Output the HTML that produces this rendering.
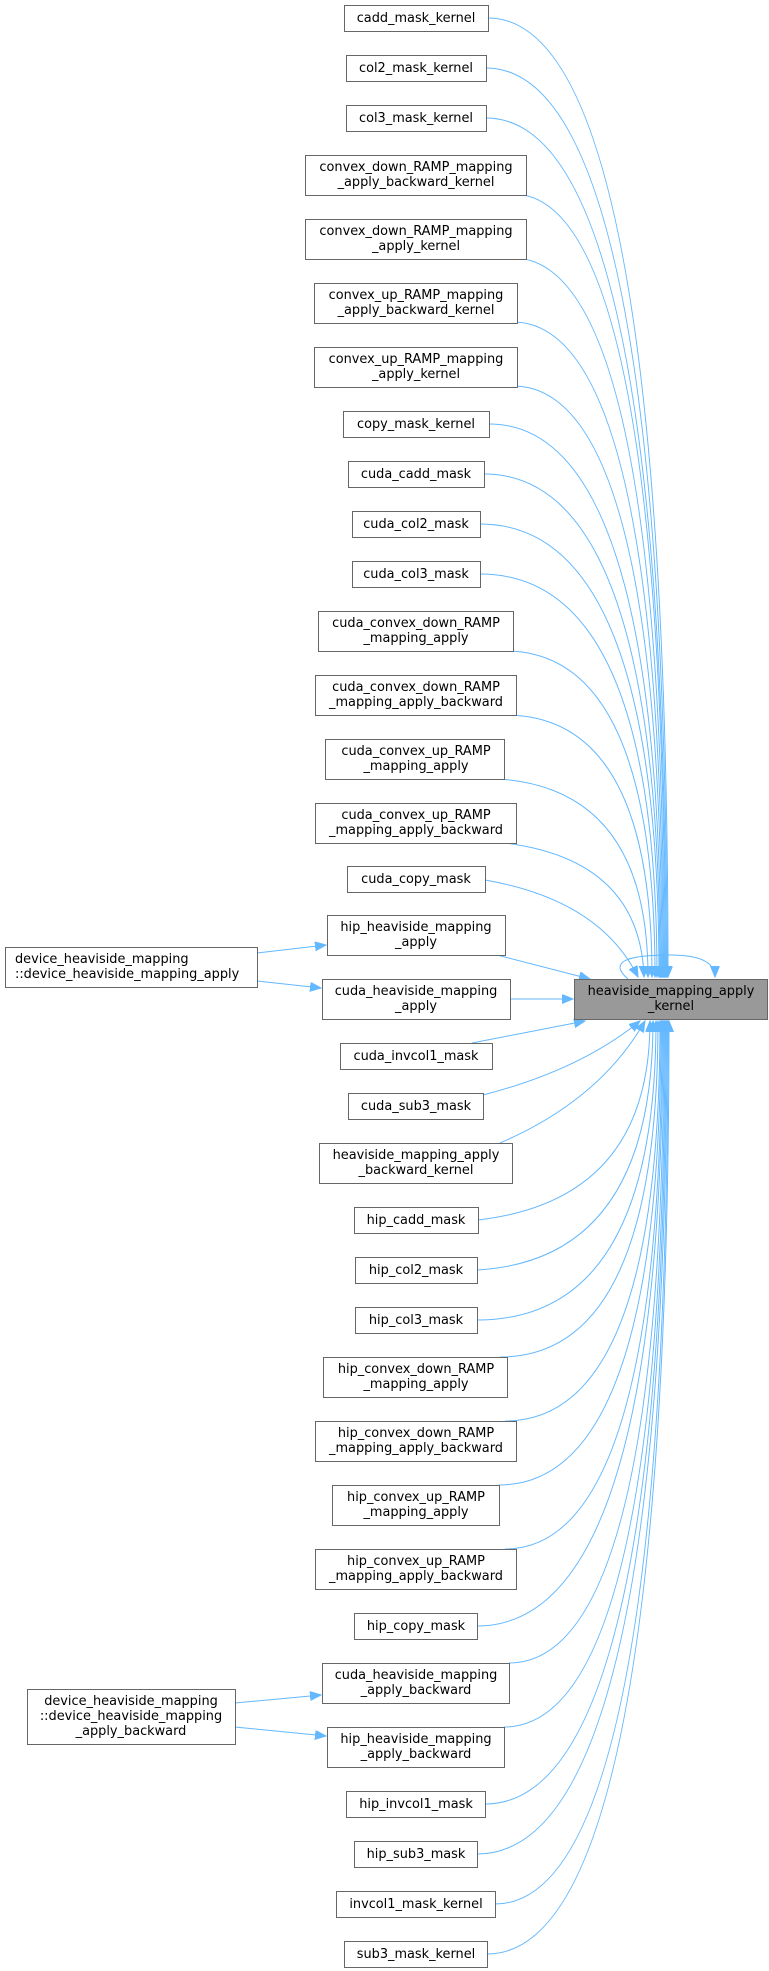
<!DOCTYPE html>
<html><head><meta charset="utf-8"><style>
html,body{margin:0;padding:0;background:#fff;}
svg{display:block;}
text{font-family:"DejaVu Sans","Liberation Sans",sans-serif;font-size:12.9px;fill:#000;text-anchor:middle;}
.b{fill:#fff;stroke:#666;stroke-width:1;}
.e{fill:none;stroke:#63b8ff;stroke-width:1;marker-end:url(#a);}
</style></head><body>
<svg width="769" height="1971" viewBox="0 0 769 1971" xmlns="http://www.w3.org/2000/svg">
<defs><marker id="a" markerUnits="userSpaceOnUse" markerWidth="12" markerHeight="10" refX="11" refY="4.5" orient="auto"><path d="M0,0 L11,4.5 L0,9 z" fill="#63b8ff" stroke="#63b8ff"/></marker></defs>

<path class="e" d="M488,18 Q668,18 668,977"/>
<path class="e" d="M486,68 Q667,68 667,977"/>
<path class="e" d="M486,118 Q666,118 666,977"/>
<path class="e" d="M513,194 Q665,194 665,977"/>
<path class="e" d="M513,258 Q664,258 664,977"/>
<path class="e" d="M513,322 Q663,322 663,977"/>
<path class="e" d="M513,386 Q662,386 662,977"/>
<path class="e" d="M489,424 Q661,424 661,977"/>
<path class="e" d="M484,474 Q660,474 660,977"/>
<path class="e" d="M480,524 Q659,524 659,977"/>
<path class="e" d="M480,574 Q657,574 657,977"/>
<path class="e" d="M505,651 Q655,651 655,977"/>
<path class="e" d="M505,715 Q652,715 652,977"/>
<path class="e" d="M500,779 Q648,790 648,977"/>
<path class="e" d="M505,843 Q640,860 644,977"/>
<path class="e" d="M485,880 Q600,900 638,977"/>
<path class="e" d="M497,955 L590,979"/>
<path class="e" d="M510,999 L573,999"/>
<path class="e" d="M628,979 Q600,955 670,955 Q715,955 715,977"/>
<path class="e" d="M472,1043 L585,1021"/>
<path class="e" d="M483,1095 Q580,1070 640,1021"/>
<path class="e" d="M500,1143 Q600,1100 645,1021"/>
<path class="e" d="M478,1220 Q650,1200 650,1021"/>
<path class="e" d="M477,1270 Q653,1260 653,1021"/>
<path class="e" d="M477,1320 Q656,1320 656,1021"/>
<path class="e" d="M500,1357 Q658,1357 658,1021"/>
<path class="e" d="M505,1421 Q660,1421 660,1021"/>
<path class="e" d="M499,1485 Q661,1485 661,1021"/>
<path class="e" d="M505,1549 Q662,1549 662,1021"/>
<path class="e" d="M477,1626 Q663,1626 663,1021"/>
<path class="e" d="M509,1663 Q664,1663 664,1021"/>
<path class="e" d="M504,1727 Q665,1727 665,1021"/>
<path class="e" d="M485,1804 Q666,1804 666,1021"/>
<path class="e" d="M477,1854 Q667,1854 667,1021"/>
<path class="e" d="M495,1904 Q668,1904 668,1021"/>
<path class="e" d="M487,1954 Q669,1954 669,1021"/>
<path class="e" d="M257,953 L326,945"/>
<path class="e" d="M257,981 L321,988"/>
<path class="e" d="M235,1703 L321,1695"/>
<path class="e" d="M235,1727 L326,1736"/>

<rect class="b" x="344.5" y="5.5" width="144" height="26"/><text x="416" y="22">cadd_mask_kernel</text>
<rect class="b" x="346.5" y="55.5" width="140" height="26"/><text x="416" y="72">col2_mask_kernel</text>
<rect class="b" x="346.5" y="105.5" width="140" height="26"/><text x="416" y="122">col3_mask_kernel</text>
<rect class="b" x="305.5" y="155.5" width="221" height="40"/><text x="416" y="171">convex_down_RAMP_mapping</text><text x="416" y="186">_apply_backward_kernel</text>
<rect class="b" x="305.5" y="219.5" width="221" height="40"/><text x="416" y="235">convex_down_RAMP_mapping</text><text x="416" y="250">_apply_kernel</text>
<rect class="b" x="314.5" y="283.5" width="203" height="40"/><text x="416" y="299">convex_up_RAMP_mapping</text><text x="416" y="314">_apply_backward_kernel</text>
<rect class="b" x="314.5" y="347.5" width="203" height="40"/><text x="416" y="363">convex_up_RAMP_mapping</text><text x="416" y="378">_apply_kernel</text>
<rect class="b" x="343.5" y="411.5" width="146" height="26"/><text x="416" y="428">copy_mask_kernel</text>
<rect class="b" x="348.5" y="461.5" width="136" height="26"/><text x="416" y="478">cuda_cadd_mask</text>
<rect class="b" x="352.5" y="511.5" width="128" height="26"/><text x="416" y="528">cuda_col2_mask</text>
<rect class="b" x="352.5" y="561.5" width="128" height="26"/><text x="416" y="578">cuda_col3_mask</text>
<rect class="b" x="318.5" y="611.5" width="195" height="40"/><text x="416" y="627">cuda_convex_down_RAMP</text><text x="416" y="642">_mapping_apply</text>
<rect class="b" x="315.5" y="675.5" width="201" height="40"/><text x="416" y="691">cuda_convex_down_RAMP</text><text x="416" y="706">_mapping_apply_backward</text>
<rect class="b" x="325.5" y="739.5" width="179" height="40"/><text x="416" y="755">cuda_convex_up_RAMP</text><text x="416" y="770">_mapping_apply</text>
<rect class="b" x="315.5" y="803.5" width="201" height="40"/><text x="416" y="819">cuda_convex_up_RAMP</text><text x="416" y="834">_mapping_apply_backward</text>
<rect class="b" x="347.5" y="866.5" width="138" height="26"/><text x="416" y="883">cuda_copy_mask</text>
<rect class="b" x="327.5" y="915.5" width="178" height="40"/><text x="416" y="931">hip_heaviside_mapping</text><text x="416" y="946">_apply</text>
<rect class="b" x="322.5" y="979.5" width="188" height="40"/><text x="416" y="995">cuda_heaviside_mapping</text><text x="416" y="1010">_apply</text>
<rect class="b" x="340.5" y="1043.5" width="152" height="26"/><text x="416" y="1060">cuda_invcol1_mask</text>
<rect class="b" x="348.5" y="1093.5" width="135" height="26"/><text x="416" y="1110">cuda_sub3_mask</text>
<rect class="b" x="319.5" y="1143.5" width="193" height="40"/><text x="416" y="1159">heaviside_mapping_apply</text><text x="416" y="1174">_backward_kernel</text>
<rect class="b" x="354.5" y="1207.5" width="124" height="26"/><text x="416" y="1224">hip_cadd_mask</text>
<rect class="b" x="355.5" y="1257.5" width="122" height="26"/><text x="416" y="1274">hip_col2_mask</text>
<rect class="b" x="355.5" y="1307.5" width="122" height="26"/><text x="416" y="1324">hip_col3_mask</text>
<rect class="b" x="323.5" y="1357.5" width="184" height="40"/><text x="416" y="1373">hip_convex_down_RAMP</text><text x="416" y="1388">_mapping_apply</text>
<rect class="b" x="315.5" y="1421.5" width="201" height="40"/><text x="416" y="1437">hip_convex_down_RAMP</text><text x="416" y="1452">_mapping_apply_backward</text>
<rect class="b" x="332.5" y="1485.5" width="167" height="40"/><text x="416" y="1501">hip_convex_up_RAMP</text><text x="416" y="1516">_mapping_apply</text>
<rect class="b" x="315.5" y="1549.5" width="201" height="40"/><text x="416" y="1565">hip_convex_up_RAMP</text><text x="416" y="1580">_mapping_apply_backward</text>
<rect class="b" x="354.5" y="1613.5" width="123" height="26"/><text x="416" y="1630">hip_copy_mask</text>
<rect class="b" x="322.5" y="1663.5" width="187" height="40"/><text x="416" y="1679">cuda_heaviside_mapping</text><text x="416" y="1694">_apply_backward</text>
<rect class="b" x="327.5" y="1727.5" width="177" height="40"/><text x="416" y="1743">hip_heaviside_mapping</text><text x="416" y="1758">_apply_backward</text>
<rect class="b" x="346.5" y="1791.5" width="139" height="26"/><text x="416" y="1808">hip_invcol1_mask</text>
<rect class="b" x="354.5" y="1841.5" width="123" height="26"/><text x="416" y="1858">hip_sub3_mask</text>
<rect class="b" x="336.5" y="1891.5" width="159" height="26"/><text x="416" y="1908">invcol1_mask_kernel</text>
<rect class="b" x="344.5" y="1941.5" width="143" height="26"/><text x="416" y="1958">sub3_mask_kernel</text>

<rect class="b" x="5.5" y="947.5" width="252" height="40"/><text x="15" y="963" style="text-anchor:start">device_heaviside_mapping</text><text x="15" y="978" style="text-anchor:start">::device_heaviside_mapping_apply</text>
<rect class="b" x="27.5" y="1689.5" width="208" height="55"/><text x="131" y="1705">device_heaviside_mapping</text><text x="131" y="1720">::device_heaviside_mapping</text><text x="131" y="1735">_apply_backward</text>

<rect x="574.5" y="979.5" width="193" height="40" fill="#999" stroke="#666"/><text x="671" y="995">heaviside_mapping_apply</text><text x="671" y="1010">_kernel</text>
</svg>
</body></html>
